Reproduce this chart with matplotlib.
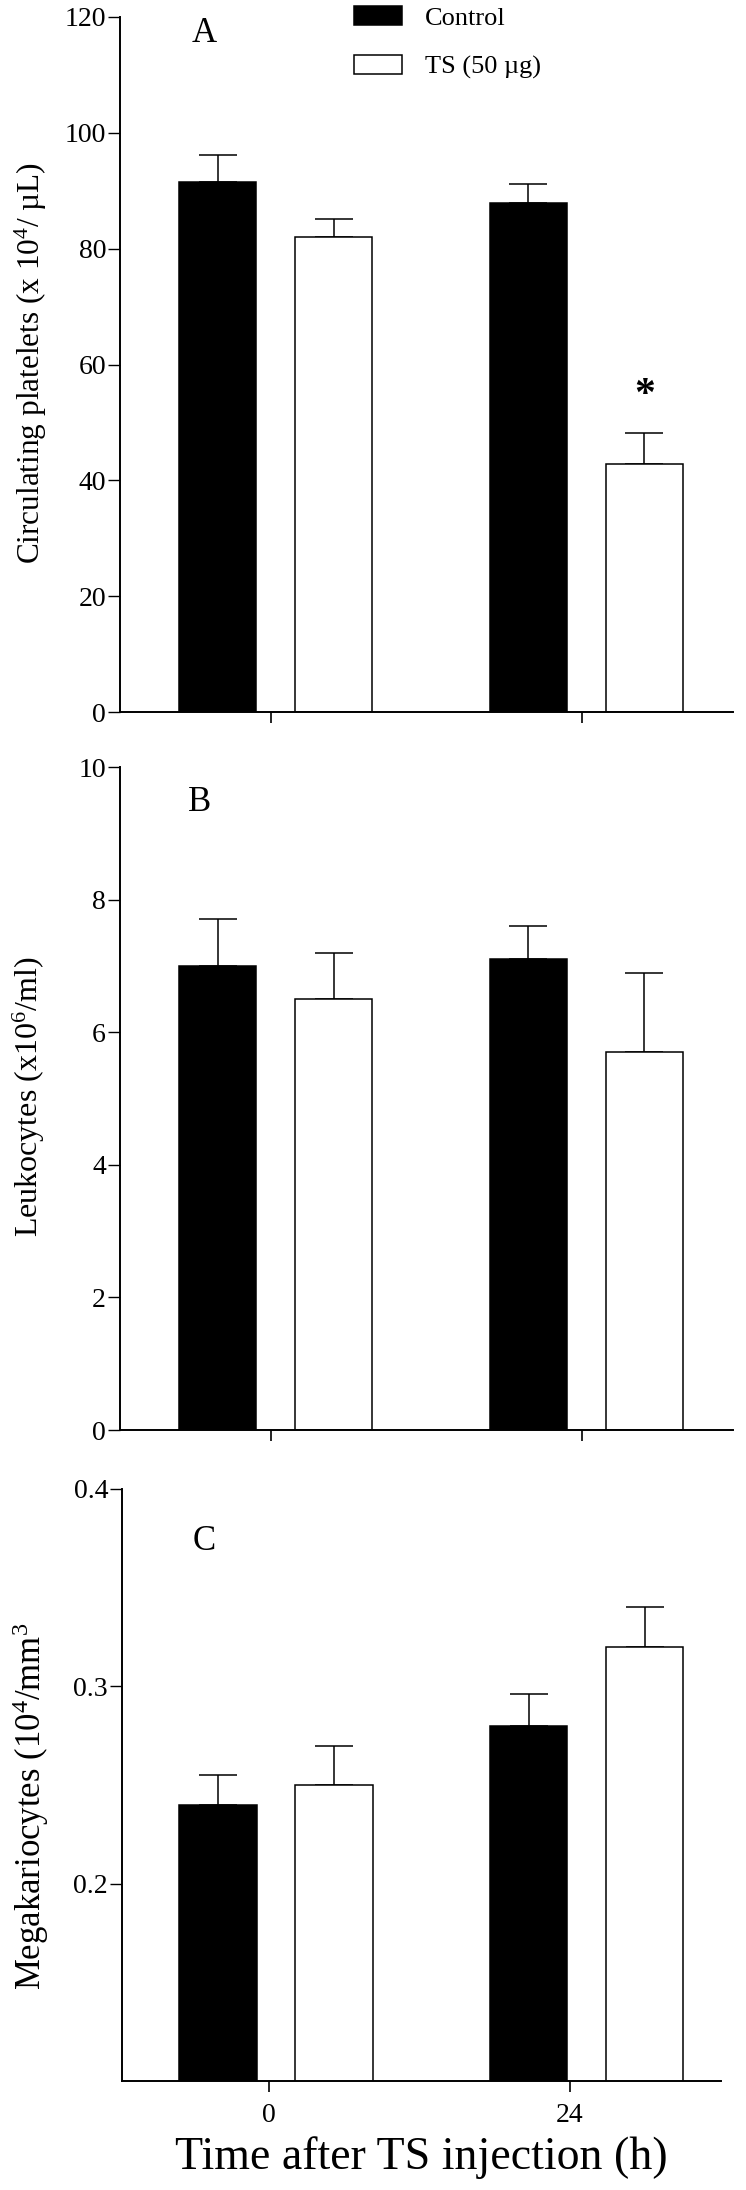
import matplotlib
matplotlib.use("Agg")
import matplotlib.pyplot as plt
import numpy as np

plt.rcParams['font.family'] = ['Liberation Serif', 'DejaVu Serif']
plt.rcParams['mathtext.fontset'] = 'custom'
plt.rcParams['mathtext.rm'] = 'Liberation Serif'
plt.rcParams['mathtext.it'] = 'Liberation Serif:italic'

# ---------------------------------------------------------------
# Data

groups = ["0", "24"]
series = ["Control", "TS (50 µg)"]

plt_ctrl = [91.5, 87.8]
plt_ctrl_err = [4.7, 3.3]
plt_ts = [82.0, 42.8]
plt_ts_err = [3.2, 5.3]

leu_ctrl = [7.0, 7.1]
leu_ctrl_err = [0.7, 0.5]
leu_ts = [6.5, 5.7]
leu_ts_err = [0.7, 1.2]

meg_ctrl = [0.24, 0.28]
meg_ctrl_err = [0.015, 0.016]
meg_ts = [0.25, 0.32]
meg_ts_err = [0.02, 0.02]

# ---------------------------------------------------------------
# Figure (pixel based layout)

W, H = 746, 2190
fig = plt.figure(figsize=(W / 100, H / 100), dpi=100)


def add_ax(left, right, top, bottom):
    return fig.add_axes([left / W, 1 - bottom / H, (right - left) / W, (bottom - top) / H])


def panel(ax, ctrl, ctrl_err, ts, ts_err):
    x = np.arange(len(groups))
    w = 0.25
    b1 = ax.bar(x - 0.172, ctrl, w, color='black', edgecolor='black', lw=1.1, label=series[0], zorder=2)
    b2 = ax.bar(x + 0.201, ts, w, color='white', edgecolor='black', lw=1.1, label=series[1], zorder=2)
    ax.errorbar(x - 0.172, ctrl, yerr=[np.zeros(len(x)), ctrl_err], fmt='none', ecolor='black',
                elinewidth=1.1, capsize=14, capthick=1.1, zorder=1)
    ax.errorbar(x + 0.201, ts, yerr=[np.zeros(len(x)), ts_err], fmt='none', ecolor='black',
                elinewidth=1.1, capsize=14, capthick=1.1, zorder=1)
    for s in ['top', 'right']:
        ax.spines[s].set_visible(False)
    for s in ['left', 'bottom']:
        ax.spines[s].set_linewidth(1.4)
    ax.tick_params(axis='y', length=9, width=1.0, pad=1, labelsize=20)
    ax.tick_params(axis='x', length=8, width=1.2, pad=8, labelsize=20)
    ax.set_xlim(-0.486, 1.486)
    ax.set_xticks(x)
    return b1, b2


# Panel A
axA = add_ax(120, 733, 17, 712)
b1, b2 = panel(axA, plt_ctrl, plt_ctrl_err, plt_ts, plt_ts_err)
axA.set_ylim(0, 120)
axA.set_yticks([0, 20, 40, 60, 80, 100, 120])
axA.set_xticklabels([])
axA.text(1.201, 54.5, "*", ha='center', va='center', fontsize=30, fontweight='bold')
axA.text(0.138, 0.976, "A", transform=axA.transAxes, ha='center', va='center', fontsize=25)

# Panel B
axB = add_ax(120, 733, 767, 1430)
panel(axB, leu_ctrl, leu_ctrl_err, leu_ts, leu_ts_err)
axB.set_ylim(0, 10)
axB.set_yticks([0, 2, 4, 6, 8, 10])
axB.set_xticklabels([])
axB.text(0.13, 0.947, "B", transform=axB.transAxes, ha='center', va='center', fontsize=25)

# Panel C
axC = add_ax(122, 721, 1489, 2081)
panel(axC, meg_ctrl, meg_ctrl_err, meg_ts, meg_ts_err)
axC.set_xlim(-0.48, 1.447)
axC.set_ylim(0.1, 0.4)
axC.set_yticks([0.2, 0.3, 0.4])
axC.set_xticks([-0.006, 0.96])
axC.set_xticklabels(groups)
axC.text(0.137, 0.911, "C", transform=axC.transAxes, ha='center', va='center', fontsize=25)

# y labels
fig.text(31 / W, 1 - 363 / H, "Circulating platelets (x 10$^{4}$/ µL)", rotation=90,
         ha='center', va='center', fontsize=22.5)
fig.text(29 / W, 1 - 1097 / H, "Leukocytes (x10$^{6}$/ml)", rotation=90,
         ha='center', va='center', fontsize=23)
fig.text(31 / W, 1 - 1806 / H, "Megakariocytes (10$^{4}$/mm$^{3}$", rotation=90,
         ha='center', va='center', fontsize=25)

# x label
fig.text(421 / W, 1 - 2158 / H, "Time after TS injection (h)", ha='center', va='center', fontsize=33)

# legend
fig.legend(handles=[b1, b2], labels=series, loc='upper left',
           bbox_to_anchor=(354 / W, 1 - 6 / H), bbox_transform=fig.transFigure,
           frameon=False, fontsize=19, handlelength=1.82, handleheight=0.72,
           handletextpad=0.87, labelspacing=0.95, borderpad=0, borderaxespad=0)

fig.savefig("out.png", dpi=100)
